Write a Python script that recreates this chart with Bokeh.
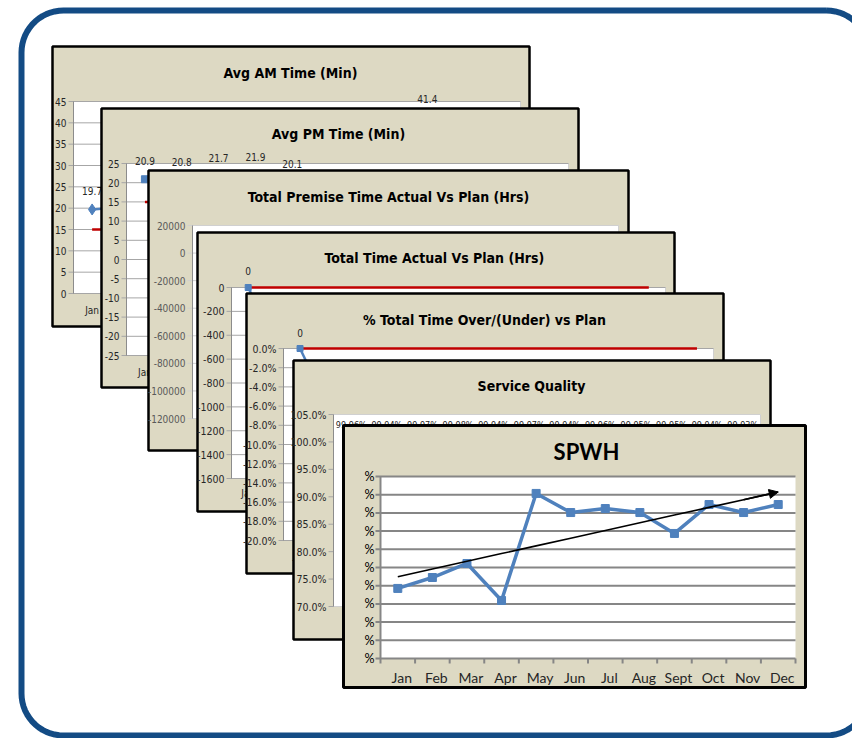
import numpy as np
from bokeh.plotting import figure
from bokeh.models import Range1d, Arrow, NormalHead
from bokeh.core.properties import value
from bokeh.embed import file_html
from bokeh.resources import INLINE

# ---------------- data ----------------
nan = float("nan")
months = ["Jan", "Feb", "Mar", "Apr", "May", "Jun", "Jul", "Aug", "Sept", "Oct", "Nov", "Dec"]

am_actual = [19.7, 20.4, nan, nan, nan, nan, nan, nan, nan, 41.4, nan, nan]
am_plan = [15] * 12
am_ticks = [0, 5, 10, 15, 20, 25, 30, 35, 40, 45]

pm_actual = [20.9, 20.8, 21.7, 21.9, 20.1, nan, nan, nan, nan, nan, nan, nan]
pm_plan = [15] * 12
pm_ticks = [-25, -20, -15, -10, -5, 0, 5, 10, 15, 20, 25]

premise_ticks = [-120000, -100000, -80000, -60000, -40000, -20000, 0, 20000]

total_periods = 13
total_actual = [0, -590] + [nan] * 11
total_plan = [0] * 13
total_ticks = [-1600, -1400, -1200, -1000, -800, -600, -400, -200, 0]

pct_periods = 13
pct_actual = [0, -7.2] + [nan] * 11
pct_plan = [0] * 13
pct_ticks = [-20, -18, -16, -14, -12, -10, -8, -6, -4, -2, 0]

sq_values = [99.96, 99.94, 99.97, 99.98, 99.94, 99.97, 99.94, 99.96, 99.95, 99.95, 99.94, 99.93]
sq_ticks = [70, 75, 80, 85, 90, 95, 100, 105]

spwh_values = [38.5, 44.5, 52.2, 31.9, 90.7, 80.2, 82.4, 80.2, 68.7, 84.6, 80.2, 84.6]
spwh_ticks = [0, 10, 20, 30, 40, 50, 60, 70, 80, 90, 100]

# ---------------- styling ----------------
W, H = 852, 738
TAN = "#ddd9c3"
BLUE = "#4f81bd"
RED = "#c00000"
GRID = "#a6a6a6"
NARROW = value("'DejaVu Sans Condensed', 'Liberation Sans', sans-serif")
CAL = value("Lato")

p = figure(width=W, height=H, x_range=Range1d(0, W), y_range=Range1d(H, 0),
           x_axis_type=None, y_axis_type=None, output_backend="svg",
           toolbar_location=None, min_border=0, outline_line_color=None,
           background_fill_color="white", border_fill_color="white")

xr, yr = {}, {}


def frame_ranges(key, area, xspan, yspan):
    """Ranges that place the data span exactly on a card's plot area."""
    L, T, R, B = area
    sx = (xspan[1] - xspan[0]) / (R - L)
    xr[key] = Range1d(xspan[0] - L * sx, xspan[0] + (W - L) * sx)
    sy = (yspan[1] - yspan[0]) / (B - T)
    y0 = yspan[0] - (H - B) * sy
    yr[key] = Range1d(y0, y0 + H * sy)


def card(box, title, cx, cy, font=NARROW, size="14px", lw=2.5):
    L, T, R, B = box
    p.quad(left=L, right=R, top=T, bottom=B, fill_color=TAN, line_color="black", line_width=lw)
    p.text(x=[cx], y=[cy], text=[title], text_align="center", text_baseline="middle",
           text_font=font, text_font_size=size, text_font_style="bold", text_color="black")


def plot_area(key, area, ticks, labels, grid=True, label_color="#262626",
              font=NARROW, size="10px", grid_color=GRID, tick_len=5):
    L, T, R, B = area
    p.quad(left=L, right=R, top=T, bottom=B, fill_color="white", line_color="#d0d0d0", line_width=1)
    x1 = [R] * len(ticks) if grid else [L] * len(ticks)
    p.segment(x0=[L - tick_len] * len(ticks), x1=x1, y0=ticks, y1=ticks,
              y_range_name=key, line_color=grid_color, line_width=1)
    p.segment(x0=[L], x1=[L], y0=[T], y1=[B], line_color="#8c8c8c", line_width=1)
    p.text(x=[L - tick_len - 2] * len(ticks), y=ticks, text=labels, y_range_name=key,
           text_align="right", text_baseline="middle", text_font=font,
           text_font_size=size, text_color=label_color)


def month_labels(key, n, y, font=NARROW, size="10px", dx=0):
    p.text(x=np.arange(n) + 0.5, y=[y] * n, text=months[:n], x_range_name=key,
           text_align="center", text_baseline="middle", text_font=font,
           text_font_size=size, text_color="#262626", x_offset=dx)


def series(key, vals, color, marker, msize, lw=2.5, labels=False, lab_off=-18,
           fmt="{:.1f}", lab_size="10px"):
    vals = np.array(vals, dtype=float)
    xs = np.arange(len(vals)) + 0.5
    p.line(x=xs, y=vals, x_range_name=key, y_range_name=key, line_color=color, line_width=lw)
    if marker:
        ok = ~np.isnan(vals)
        p.scatter(x=xs[ok], y=vals[ok], x_range_name=key, y_range_name=key, marker=marker,
                  size=msize, fill_color=color, line_color=color)
    if labels:
        ok = ~np.isnan(vals)
        p.text(x=xs[ok], y=vals[ok], text=[fmt.format(v) for v in vals[ok]],
               x_range_name=key, y_range_name=key, y_offset=lab_off,
               text_align="center", text_baseline="middle", text_font=NARROW,
               text_font_size=lab_size, text_color="#262626")


# ---- plot areas (screen boxes) and their data spans ----
A1 = (73, 101, 520, 293)
A2 = (126, 163, 568, 355)
A3 = (192, 225, 618, 418)
A4 = (231, 287, 665, 478)
A5 = (283, 348, 713, 540)
A6 = (333, 414, 760, 606)
A7 = (380, 476, 795, 658)

frame_ranges("am", A1, (0, 12), (min(am_ticks), max(am_ticks)))
frame_ranges("pm", A2, (0, 12), (min(pm_ticks), max(pm_ticks)))
frame_ranges("prem", A3, (0, 12), (min(premise_ticks), max(premise_ticks)))
frame_ranges("tot", A4, (0, total_periods), (min(total_ticks), max(total_ticks)))
frame_ranges("pct", A5, (0, pct_periods), (min(pct_ticks), max(pct_ticks)))
frame_ranges("sq", A6, (0, 12), (min(sq_ticks), max(sq_ticks)))
frame_ranges("spwh", A7, (0, 12), (min(spwh_ticks), max(spwh_ticks)))
p.extra_x_ranges = xr
p.extra_y_ranges = yr

# ---- outer rounded frame, traced as a path of straight runs and quarter arcs ----
fl, ft, fr, fb, rad = 21, 10, 868, 735, 42
quarter = np.linspace(0, np.pi / 2, 16)
path_x, path_y = [], []
for cx0, cy0, a0 in [(fr - rad, ft + rad, -np.pi / 2), (fr - rad, fb - rad, 0),
                     (fl + rad, fb - rad, np.pi / 2), (fl + rad, ft + rad, np.pi)]:
    ang = a0 + quarter
    path_x.extend(cx0 + rad * np.cos(ang))
    path_y.extend(cy0 + rad * np.sin(ang))
path_x.append(path_x[0])
path_y.append(path_y[0])
p.line(x=path_x, y=path_y, line_color="#134b84", line_width=6)

# ---- Avg AM Time ----
card((52, 46, 529, 326), "Avg AM Time (Min)", 290, 72)
plot_area("am", A1, am_ticks, [str(t) for t in am_ticks])
month_labels("am", 12, 310)
series("am", am_plan, RED, None, 0)
series("am", am_actual, BLUE, "diamond", 11, labels=True)

# ---- Avg PM Time ----
card((101, 108, 578, 387), "Avg PM Time (Min)", 338, 133)
plot_area("pm", A2, pm_ticks, [str(t) for t in pm_ticks])
month_labels("pm", 12, 372)
series("pm", pm_plan, RED, None, 0)
series("pm", pm_actual, BLUE, "square", 7, labels=True)

# ---- Total Premise Time ----
card((148, 170, 628, 450), "Total Premise Time Actual Vs Plan (Hrs)", 388, 196)
plot_area("prem", A3, premise_ticks, [str(t) for t in premise_ticks],
          label_color="#595959", grid_color="#d0d0d0")
month_labels("prem", 12, 434)

# ---- Total Time ----
card((197, 232, 674, 511), "Total  Time Actual Vs Plan (Hrs)", 436, 257)
plot_area("tot", A4, total_ticks, [str(t) for t in total_ticks], size="10.5px")
month_labels("tot", 12, 493)
series("tot", total_plan, RED, None, 0)
series("tot", total_actual, BLUE, "square", 6, labels=True, lab_off=-17, fmt="{:.0f}")

# ---- % Total Time ----
card((246, 293, 723, 573), "% Total Time Over/(Under) vs Plan", 484, 319)
plot_area("pct", A5, pct_ticks, ["{:.1f}%".format(t) for t in pct_ticks], size="10.5px")
month_labels("pct", 12, 555)
series("pct", pct_plan, RED, None, 0)
series("pct", pct_actual, BLUE, "square", 6, labels=True, lab_off=-16, fmt="{:.0f}")

# ---- Service Quality ----
card((293, 360, 770, 639), "Service Quality", 531, 385)
plot_area("sq", A6, sq_ticks, ["{:.1f}%".format(t) for t in sq_ticks], grid=False, size="10.5px")
month_labels("sq", 12, 621)
series("sq", sq_values, BLUE, "square", 6, labels=True, lab_off=-17, fmt="{:.2f}%",
       lab_size="9px")

# ---- SPWH ----
card((343, 425, 805, 687), "SPWH", 586, 451, font=CAL, size="22px", lw=3)
L7, T7, R7, B7 = A7
p.quad(left=L7, right=R7, top=T7, bottom=B7, fill_color="white", line_color=None)
p.segment(x0=[L7 - 5] * len(spwh_ticks), x1=[R7] * len(spwh_ticks), y0=spwh_ticks, y1=spwh_ticks,
          y_range_name="spwh", line_color="#868686", line_width=2)
p.segment(x0=[L7], x1=[L7], y0=[T7], y1=[B7], line_color="#868686", line_width=2)
edges = np.arange(13)
p.segment(x0=edges, x1=edges, y0=[B7] * 13, y1=[B7 + 5] * 13, x_range_name="spwh",
          line_color="#868686", line_width=2)
p.text(x=[L7 - 6] * len(spwh_ticks), y=spwh_ticks, text=["%"] * len(spwh_ticks),
       y_range_name="spwh", text_align="right", text_baseline="middle",
       text_font=CAL, text_font_size="12.5px", text_color="black")
month_labels("spwh", 12, 677, font=CAL, size="14px", dx=4)
series("spwh", spwh_values, BLUE, "square", 8, lw=3.5)

# linear trend of the SPWH series, ending in an arrow
xs7 = np.arange(12) + 0.5
slope, icept = np.polyfit(xs7, np.array(spwh_values), 1)
trend = slope * xs7 + icept
p.line(x=xs7, y=trend, x_range_name="spwh", y_range_name="spwh", line_color="black", line_width=1.6)
p.add_layout(Arrow(end=NormalHead(size=9, fill_color="black", line_color="black"),
                   x_start=xs7[-2], y_start=trend[-2], x_end=xs7[-1], y_end=trend[-1],
                   x_range_name="spwh", y_range_name="spwh", line_color="black", line_width=1.6))

open("out.html", "w").write(file_html(p, INLINE))
